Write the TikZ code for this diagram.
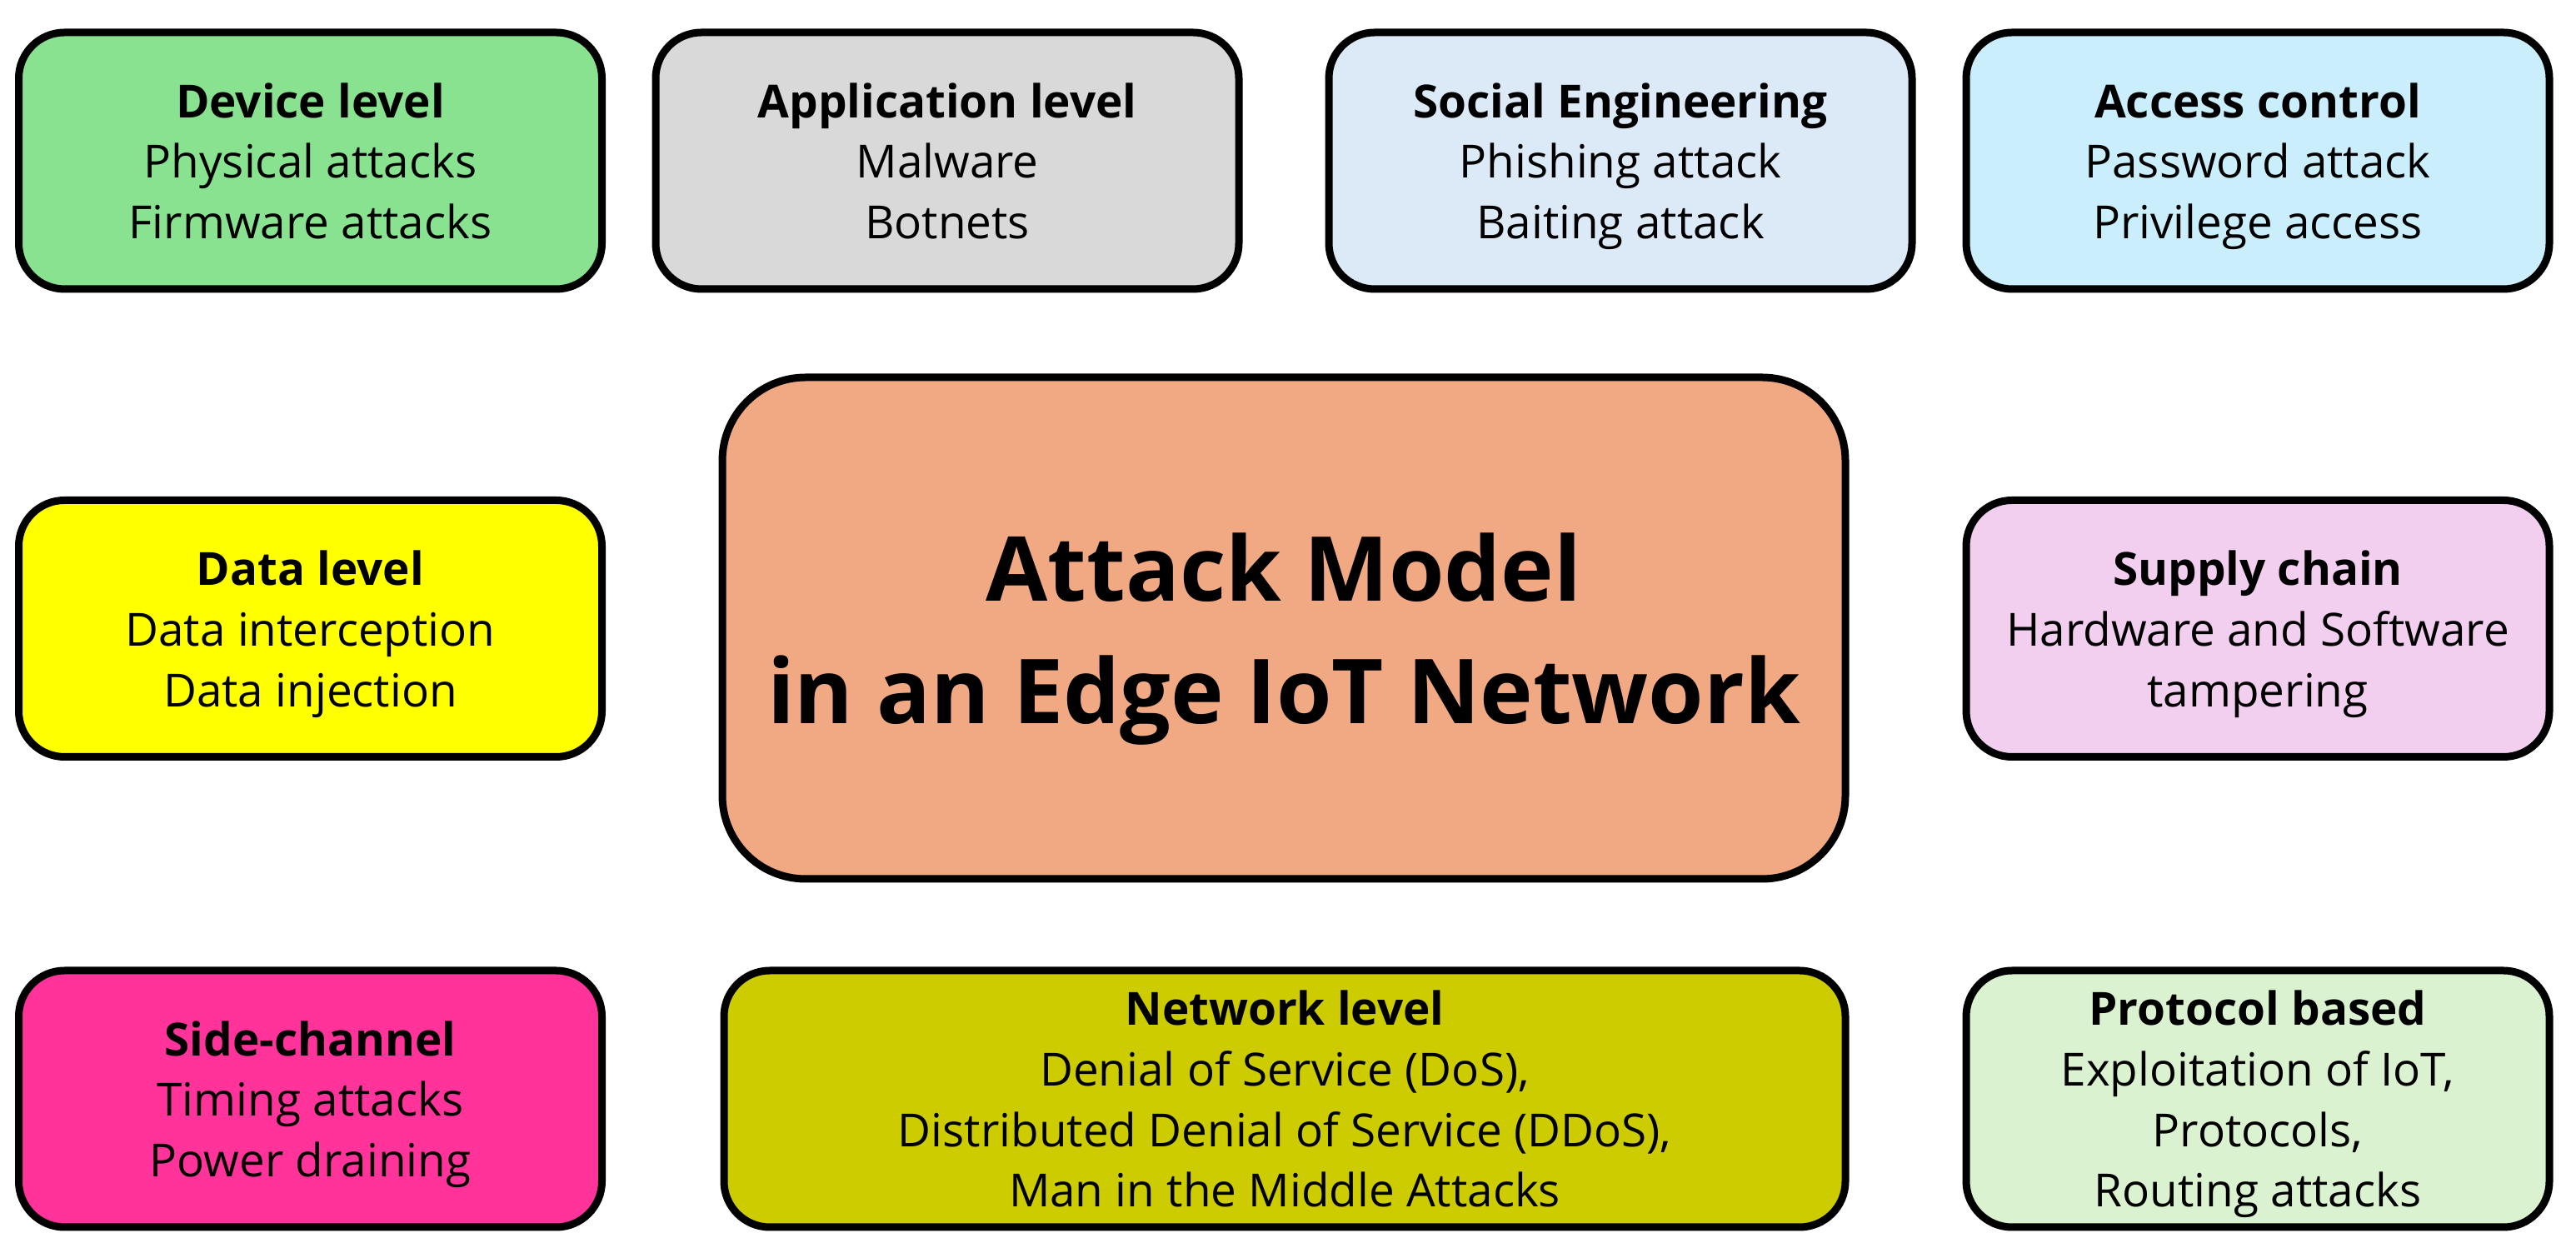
\documentclass[tikz,border=0pt]{standalone}
\usepackage{fontspec}
\setmainfont{Open Sans}
\definecolor{devgreen}{HTML}{88E290}
\definecolor{appgray}{HTML}{D9D9D9}
\definecolor{socblue}{HTML}{DCE9F6}
\definecolor{acccyan}{HTML}{CAEEFB}
\definecolor{datayellow}{HTML}{FFFF00}
\definecolor{suppink}{HTML}{F2CEEF}
\definecolor{mainorange}{HTML}{F1A983}
\definecolor{sidepink}{HTML}{FF3399}
\definecolor{netolive}{HTML}{CCCC00}
\definecolor{protgreen}{HTML}{DAF2D0}
\begin{document}
\begin{tikzpicture}[
    attackbox/.style={draw, line width=0.09cm, rounded corners=0.55cm,
      minimum width=7cm, minimum height=3.08cm, align=center, text depth=0pt,
      font=\fontsize{15.6}{20.7}\selectfont},
    corebox/.style={draw, line width=0.09cm, rounded corners=1cm,
      minimum width=13.48cm, minimum height=6.02cm, align=center, text depth=0pt,
      font=\bfseries\fontsize{30.6}{41.8}\selectfont}
  ]
  \useasboundingbox (0,0) rectangle (30.92,15.10);
  \path
    (3.725,13.17) node[attackbox, fill=devgreen] (dev)
      {\textbf{Device level}\\Physical attacks\\Firmware attacks}
    (11.37,13.17) node[attackbox, fill=appgray] (app)
      {\textbf{Application level}\\Malware\\Botnets}
    (19.45,13.17) node[attackbox, fill=socblue] (soc)
      {\textbf{Social Engineering}\\Phishing attack\\Baiting attack}
    (27.10,13.17) node[attackbox, fill=acccyan] (acc)
      {\textbf{Access control}\\Password attack\\Privilege access}
    (3.725,7.555) node[attackbox, fill=datayellow] (data)
      {\textbf{Data level}\\Data interception\\Data injection}
    (15.41,7.56) node[corebox, fill=mainorange] (core)
      {Attack Model\\in an Edge IoT Network}
    (27.10,7.555) node[attackbox, fill=suppink] (sup)
      {\textbf{Supply chain}\\Hardware and Software\\tampering}
    (3.725,1.91) node[attackbox, fill=sidepink] (side)
      {\textbf{Side-channel}\\Timing attacks\\Power draining}
    (15.42,1.91) node[attackbox, fill=netolive, minimum width=13.46cm] (net)
      {\textbf{Network level}\\Denial of Service (DoS),\\Distributed Denial of Service (DDoS),\\Man in the Middle Attacks}
    (27.10,1.91) node[attackbox, fill=protgreen] (prot)
      {\textbf{Protocol based}\\Exploitation of IoT,\\Protocols,\\Routing attacks};
\end{tikzpicture}
\end{document}
